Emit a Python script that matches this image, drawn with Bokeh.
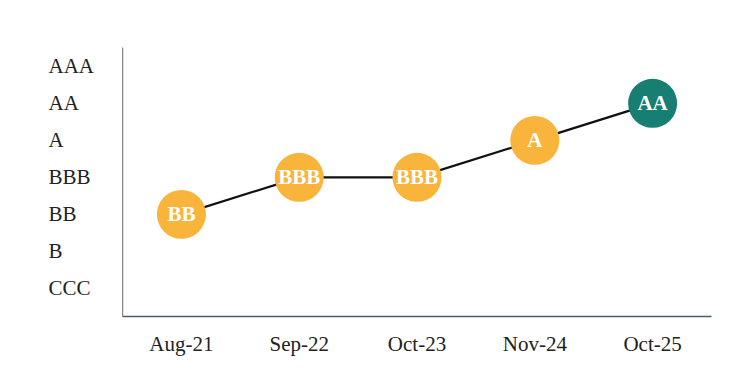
from bokeh.plotting import figure
from bokeh.layouts import row
from bokeh.models import ColumnDataSource, Range1d, FactorRange, FixedTicker
from bokeh.core.properties import value
from bokeh.embed import file_html
from bokeh.resources import INLINE

dates = ["Aug-21", "Sep-22", "Oct-23", "Nov-24", "Oct-25"]
ratings = ["BB", "BBB", "BBB", "A", "AA"]
scale = ["CCC", "B", "BB", "BBB", "A", "AA", "AAA"]
point_colors = ["#F9B43C", "#F9B43C", "#F9B43C", "#F9B43C", "#167E72"]

y_vals = [scale.index(r) for r in ratings]
src = ColumnDataSource(dict(x=dates, y=y_vals, label=ratings, color=point_colors))

FONT = "Liberation Serif"
W, H = 754, 374
LEFT, RIGHT, TOP, BOTTOM = 122, 43, 47, 58
y_range = Range1d(-0.76, 6.51)

# ---- narrow panel holding the left-aligned rating labels ----
lab = figure(width=LEFT, height=H, output_backend="svg", toolbar_location=None,
             x_range=Range1d(0, LEFT), y_range=y_range,
             min_border_left=0, min_border_right=0, min_border_top=TOP, min_border_bottom=BOTTOM)
lab.axis.visible = False
lab.grid.visible = False
lab.outline_line_color = None
lab_src = ColumnDataSource(dict(x=[48] * len(scale), y=list(range(len(scale))), t=scale))
lab.text("x", "y", text="t", source=lab_src, text_align="left", text_baseline="middle",
         text_font=value(FONT), text_font_size="21px", text_color="#222222")

# ---- main chart ----
p = figure(width=W - LEFT, height=H, output_backend="svg", toolbar_location=None,
           x_range=FactorRange(factors=dates, range_padding=0), y_range=y_range,
           min_border_left=0, min_border_right=RIGHT, min_border_top=TOP, min_border_bottom=BOTTOM)
p.outline_line_color = None
p.grid.grid_line_color = None
p.background_fill_color = "white"
p.border_fill_color = "white"

p.line("x", "y", source=src, line_color="#111111", line_width=2.2)
p.scatter("x", "y", source=src, size=49, fill_color="color", line_color=None)
p.text("x", "y", text="label", source=src, text_color="white",
       text_font=value(FONT), text_font_style="bold", text_font_size="21px",
       text_align="center", text_baseline="middle")

ya = p.yaxis[0]
ya.ticker = FixedTicker(ticks=list(range(len(scale))))
ya.major_label_overrides = {i: "" for i in range(len(scale))}
ya.major_tick_out = 0
ya.major_tick_in = 0
ya.minor_tick_out = 0
ya.minor_tick_in = 0
ya.major_label_standoff = 0
ya.axis_line_color = "#888888"
ya.axis_line_width = 1.5

xa = p.xaxis[0]
xa.major_tick_line_color = None
xa.minor_tick_line_color = None
xa.axis_line_color = "#4A5E6E"
xa.axis_line_width = 1.5
xa.major_label_text_font = FONT
xa.major_label_text_font_size = "21px"
xa.major_label_text_color = "#222222"
xa.major_label_standoff = 9

layout = row(lab, p, spacing=0)
open("out.html", "w").write(file_html(layout, INLINE))
